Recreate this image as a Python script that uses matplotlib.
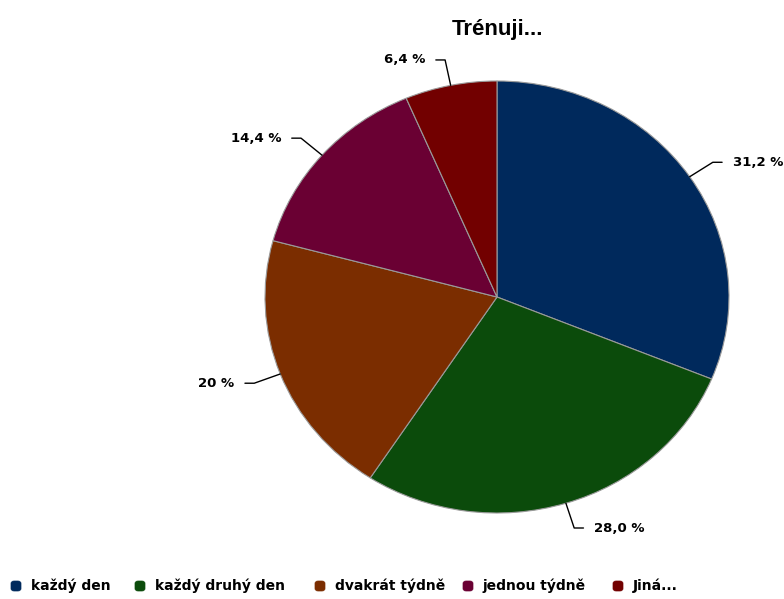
import matplotlib.pyplot as plt
import numpy as np
from matplotlib.patches import FancyBboxPatch

categories = ["každý den", "každý druhý den", "dvakrát týdně", "jednou týdně", "Jiná..."]
values = [31.2, 28.0, 20.0, 14.4, 6.4]
value_labels = ["31,2 %", "28,0 %", "20 %", "14,4 %", "6,4 %"]
title = "Trénuji..."

colors = ["#00295c", "#0b4b0b", "#7b2d00", "#6a0033", "#720000"]

W, H = 784, 599
fig = plt.figure(figsize=(W / 100, H / 100), dpi=100)
fig.patch.set_facecolor("white")

# pie area is slightly wider than tall
ax = fig.add_axes([265 / W, 86 / H, 464 / W, 432 / H])
wedges, _ = ax.pie(values, colors=colors, startangle=90, counterclock=False,
                   radius=1.0, wedgeprops=dict(edgecolor="#9a9a9a", linewidth=0.8))
ax.set_aspect("auto")
ax.set_xlim(-1, 1)
ax.set_ylim(-1, 1)
ax.axis("off")

# outside labels with bent leader lines
for w, lab in zip(wedges, value_labels):
    ang = np.deg2rad((w.theta1 + w.theta2) / 2)
    c, s = np.cos(ang), np.sin(ang)
    side = 1 if c >= 0 else -1
    x1, y1 = 1.12 * c, 1.12 * s
    x2 = x1 + side * 0.04
    ax.plot([c, x1, x2], [s, y1, y1], color="black", lw=1.0, clip_on=False,
            solid_joinstyle="round", solid_capstyle="round")
    ax.text(x2 + side * 0.045, y1, lab, ha="left" if side > 0 else "right",
            va="center", fontsize=9.5, fontweight="bold", family="DejaVu Sans")

fig.text(498 / W, 1 - 30 / H, title, ha="center", va="center",
         fontsize=16, fontweight="bold", family="Liberation Sans")

# legend row along the bottom: rounded colour swatch followed by the name
legend_x = [16, 140, 320, 468, 618]
legend_y = 1 - 586 / H
for lx, col, name in zip(legend_x, colors, categories):
    sw = FancyBboxPatch(((lx - 5) / W, legend_y - 5 / H), 10 / W, 10 / H,
                        boxstyle="round,pad=0,rounding_size=0.004",
                        transform=fig.transFigure, facecolor=col, edgecolor=col,
                        linewidth=0.5)
    fig.patches.append(sw)
    fig.text((lx + 15) / W, legend_y, name, ha="left", va="center",
             fontsize=10, fontweight="bold", family="DejaVu Sans")

fig.savefig("out.png", dpi=100, facecolor="white")
